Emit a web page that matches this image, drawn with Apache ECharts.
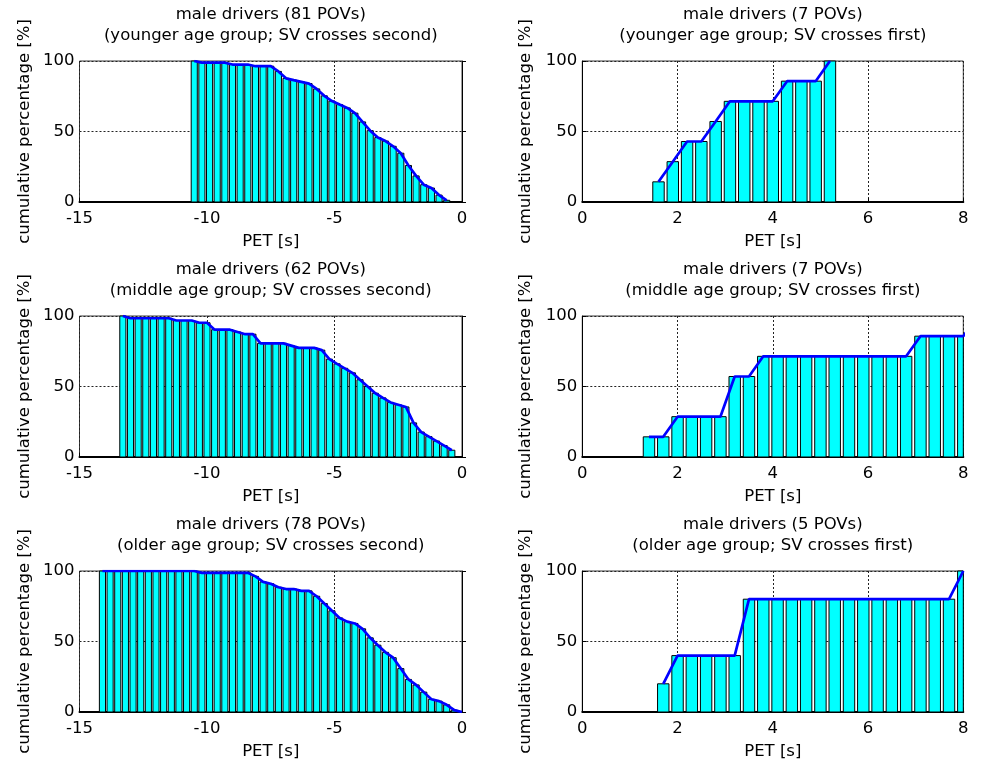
<!DOCTYPE html>
<html>
<head>
<meta charset="utf-8">
<script src="https://cdn.jsdelivr.net/npm/echarts@6/dist/echarts.min.js"></script>
<style>
  html, body { margin: 0; padding: 0; background: #ffffff; }
  #chart { width: 985px; height: 769px; }
</style>
</head>
<body>
<div id="chart"></div>
<script>
// PET sample points [s] and cumulative percentage of POVs at each point

// younger age group, SV crosses second (81 POVs)
const youngerSecondPET = [-10.5, -10.2, -9.9, -9.6, -9.3, -9.0, -8.7, -8.4, -8.1, -7.8, -7.5, -7.2, -6.9, -6.6, -6.3, -6.0, -5.7,
  -5.4, -5.1, -4.8, -4.5, -4.2, -3.9, -3.6, -3.3, -3.0, -2.7, -2.4, -2.1, -1.8, -1.5, -1.2, -0.9, -0.6];
const youngerSecondPct = [100, 98.8, 98.8, 98.8, 98.8, 97.5, 97.5, 97.5, 96.3, 96.3, 96.3, 92.6, 87.7, 86.4, 85.2, 84.0, 80.2,
  75.3, 71.6, 69.1, 66.7, 63.0, 56.8, 50.6, 45.7, 43.2, 39.5, 34.6, 25.9, 18.5, 12.3, 9.9, 4.9, 1.2];

// younger age group, SV crosses first (7 POVs)
const youngerFirstPET = [1.6, 1.9, 2.2, 2.5, 2.8, 3.1, 3.4, 3.7, 4.0, 4.3, 4.6, 4.9, 5.2];
const youngerFirstPct = [14.3, 28.6, 42.9, 42.9, 57.1, 71.4, 71.4, 71.4, 71.4, 85.7, 85.7, 85.7, 100];

// middle age group, SV crosses second (62 POVs)
const middleSecondPET = [-13.3, -13.0, -12.7, -12.4, -12.1, -11.8, -11.5, -11.2, -10.9, -10.6, -10.3, -10.0, -9.7, -9.4, -9.1,
  -8.8, -8.5, -8.2, -7.9, -7.6, -7.3, -7.0, -6.7, -6.4, -6.1, -5.8, -5.5, -5.2, -4.9, -4.6, -4.3, -4.0, -3.7, -3.4, -3.1,
  -2.8, -2.5, -2.2, -1.9, -1.6, -1.3, -1.0, -0.7, -0.4];
const middleSecondPct = [100, 98.4, 98.4, 98.4, 98.4, 98.4, 98.4, 96.8, 96.8, 96.8, 95.2, 95.2, 90.3, 90.3, 90.3,
  88.7, 87.1, 87.1, 80.6, 80.6, 80.6, 80.6, 79.0, 77.4, 77.4, 77.4, 75.8, 69.4, 66.1, 62.9, 59.7, 54.8, 50.0, 45.2, 41.9,
  38.7, 37.1, 35.5, 24.2, 17.7, 14.5, 11.3, 8.1, 4.8];

// middle age group, SV crosses first (7 POVs)
const middleFirstPET = [1.4, 1.7, 2.0, 2.3, 2.6, 2.9, 3.2, 3.5, 3.8, 4.1, 4.4, 4.7, 5.0, 5.3, 5.6, 5.9, 6.2, 6.5, 6.8,
  7.1, 7.4, 7.7, 8.0, 8.3];
const middleFirstPct = [14.3, 14.3, 28.6, 28.6, 28.6, 28.6, 57.1, 57.1, 71.4, 71.4, 71.4, 71.4, 71.4, 71.4, 71.4, 71.4,
  71.4, 71.4, 71.4, 85.7, 85.7, 85.7, 85.7, 100];

// older age group, SV crosses second (78 POVs)
const olderSecondPET = [-14.1, -13.8, -13.5, -13.2, -12.9, -12.6, -12.3, -12.0, -11.7, -11.4, -11.1, -10.8, -10.5, -10.2,
  -9.9, -9.6, -9.3, -9.0, -8.7, -8.4, -8.1, -7.8, -7.5, -7.2, -6.9, -6.6, -6.3, -6.0, -5.7, -5.4, -5.1, -4.8, -4.5, -4.2,
  -3.9, -3.6, -3.3, -3.0, -2.7, -2.4, -2.1, -1.8, -1.5, -1.2, -0.9, -0.6, -0.3, 0.0];
const olderSecondPct = [100, 100, 100, 100, 100, 100, 100, 100, 100, 100, 100, 100, 100, 98.7,
  98.7, 98.7, 98.7, 98.7, 98.7, 98.7, 96.2, 92.3, 91.0, 88.5, 87.2, 87.2, 85.9, 85.9, 82.1, 76.9, 71.8, 66.7, 64.1, 62.8,
  59.0, 52.6, 47.4, 42.3, 38.5, 30.8, 23.1, 19.2, 14.1, 9.0, 7.7, 5.1, 1.3, 0];

// older age group, SV crosses first (5 POVs)
const olderFirstPET = [1.7, 2.0, 2.3, 2.6, 2.9, 3.2, 3.5, 3.8, 4.1, 4.4, 4.7, 5.0, 5.3, 5.6, 5.9, 6.2, 6.5, 6.8, 7.1,
  7.4, 7.7, 8.0];
const olderFirstPct = [20, 40, 40, 40, 40, 40, 80, 80, 80, 80, 80, 80, 80, 80, 80, 80, 80, 80, 80, 80, 80, 100];

const panelTitles = [
  'male drivers (81 POVs)\n(younger age group; SV crosses second)',
  'male drivers (7 POVs)\n(younger age group; SV crosses first)',
  'male drivers (62 POVs)\n(middle age group; SV crosses second)',
  'male drivers (7 POVs)\n(middle age group; SV crosses first)',
  'male drivers (78 POVs)\n(older age group; SV crosses second)',
  'male drivers (5 POVs)\n(older age group; SV crosses first)'
];
const xTicksSecond = [-15, -10, -5, 0];
const xTicksFirst = [0, 2, 4, 6, 8];
const yTicks = [0, 50, 100];
const xName = 'PET [s]';
const yName = 'cumulative percentage [%]';

// panel order: row by row, left column = SV crosses second, right = SV crosses first
const panelPET = [youngerSecondPET, youngerFirstPET, middleSecondPET, middleFirstPET, olderSecondPET, olderFirstPET];
const panelPct = [youngerSecondPct, youngerFirstPct, middleSecondPct, middleFirstPct, olderSecondPct, olderFirstPct];

// layout
const FONT = 'DejaVu Sans';
const FS = 16.5;
const colLeft = [79.5, 582.3];
const colWidth = [382.5, 381];
const rowTop = [61, 316, 571];
const plotHeight = 141;
const BAR_HALF = 0.12; // half bar width in seconds (0.8 of the 0.3 s spacing)

const grids = [], xAxes = [], yAxes = [], titles = [], series = [];

function renderBar(params, api) {
  const x = api.value(0), y = api.value(1);
  const p0 = api.coord([x - BAR_HALF, y]);
  const p1 = api.coord([x + BAR_HALF, 0]);
  const cs = params.coordSys;
  const shape = echarts.graphic.clipRectByRect(
    { x: p0[0], y: p0[1], width: p1[0] - p0[0], height: p1[1] - p0[1] },
    { x: cs.x, y: cs.y, width: cs.width, height: cs.height }
  );
  if (!shape) return null;
  return {
    type: 'rect',
    shape: shape,
    style: { fill: '#00ffff', stroke: '#000000', lineWidth: 1 }
  };
}

for (let i = 0; i < 6; i++) {
  const col = i % 2, row = Math.floor(i / 2);
  const left = colLeft[col], top = rowTop[row];
  const ticks = col === 0 ? xTicksSecond : xTicksFirst;

  grids.push({
    left: left, top: top, width: colWidth[col], height: plotHeight,
    show: true, borderColor: '#3a3a3a', borderWidth: 1, backgroundColor: 'transparent',
    containLabel: false
  });

  titles.push({
    text: panelTitles[i],
    left: left + colWidth[col] / 2,
    top: top - 56.5,
    textAlign: 'center',
    padding: 0,
    textStyle: { fontFamily: FONT, fontSize: FS, fontWeight: 'normal', color: '#000', lineHeight: 21 }
  });

  xAxes.push({
    type: 'value', gridIndex: i,
    min: ticks[0], max: ticks[ticks.length - 1], interval: ticks[1] - ticks[0],
    name: xName, nameLocation: 'middle', nameGap: 31,
    nameTextStyle: { fontFamily: FONT, fontSize: FS, color: '#000' },
    axisLine: { show: true, onZero: false, lineStyle: { color: '#000', width: 2 } },
    axisTick: { show: true, inside: true, length: 4, lineStyle: { color: '#000' } },
    axisLabel: { fontFamily: FONT, fontSize: FS, color: '#000', margin: 8 },
    splitLine: { show: true, lineStyle: { color: '#222', width: 1, type: [2, 2] } }
  });

  yAxes.push({
    type: 'value', gridIndex: i,
    min: yTicks[0], max: yTicks[yTicks.length - 1], interval: yTicks[1] - yTicks[0],
    name: yName, nameLocation: 'middle', nameGap: col === 0 ? 46 : 48, nameRotate: 90,
    nameTextStyle: { fontFamily: FONT, fontSize: FS, color: '#000' },
    axisLine: { show: true, lineStyle: { color: '#000', width: 1 } },
    axisTick: { show: true, inside: true, length: 4, lineStyle: { color: '#000' } },
    axisLabel: { fontFamily: FONT, fontSize: FS, color: '#000', margin: 5 },
    splitLine: { show: true, lineStyle: { color: '#222', width: 1, type: [2, 2] } }
  });

  const data = panelPET[i].map((x, j) => [x, panelPct[i][j]]);

  series.push({
    type: 'custom', xAxisIndex: i, yAxisIndex: i,
    data: data, renderItem: renderBar, encode: { x: 0, y: 1 }, z: 2, silent: true
  });
  series.push({
    type: 'line', xAxisIndex: i, yAxisIndex: i,
    data: data, showSymbol: false, clip: true, z: 3, silent: true,
    lineStyle: { color: '#0000ff', width: 2.7 }
  });
}

const chart = echarts.init(document.getElementById('chart'));
chart.setOption({
  animation: false,
  backgroundColor: '#ffffff',
  title: titles,
  grid: grids,
  xAxis: xAxes,
  yAxis: yAxes,
  series: series
});
</script>
</body>
</html>
